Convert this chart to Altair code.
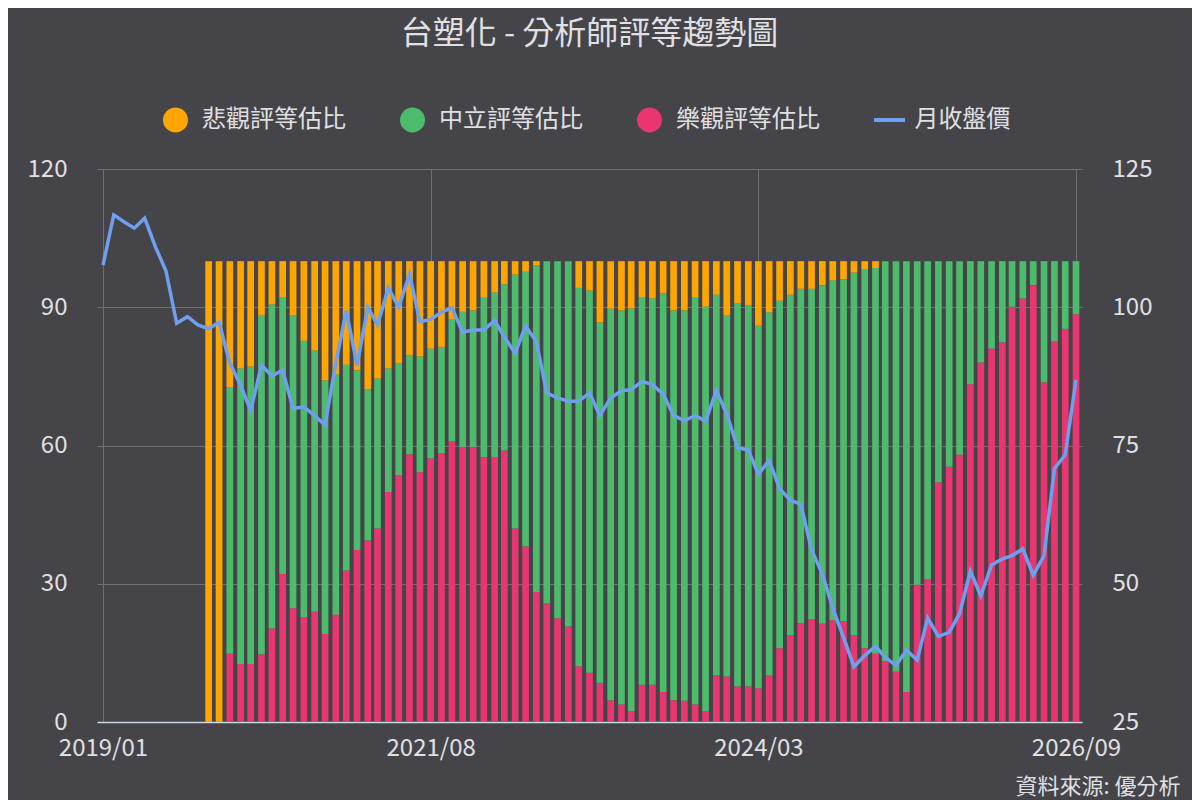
import pandas as pd
import altair as alt

# monthly points, 2019/01 .. 2026/09
months = pd.date_range("2019-01-01", periods=93, freq="MS")

# 月收盤價 (right axis)
price = [
    107.6, 116.7, 115.5, 114.3, 116.1, 110.9, 106.6, 97.1, 98.3, 96.8,
    96.1, 97.3, 89.9, 85.9, 81.3, 89.5, 87.6, 88.6, 81.7, 82.0,
    80.4, 78.7, 89.9, 99.4, 89.5, 100.0, 96.8, 103.5, 100.0, 106.0,
    97.4, 97.8, 99.1, 99.9, 95.5, 95.9, 95.9, 97.6, 94.6, 91.7,
    96.6, 93.8, 84.5, 83.6, 83.0, 83.0, 84.5, 80.4, 83.6, 84.9,
    85.1, 86.6, 86.0, 84.3, 80.4, 79.5, 80.4, 79.4, 84.9, 80.7,
    74.6, 74.2, 69.8, 72.3, 67.2, 65.1, 64.4, 56.1, 51.8, 45.6,
    40.3, 35.0, 37.0, 38.7, 36.7, 35.2, 38.0, 36.2, 43.8, 40.5,
    41.2, 44.6, 52.3, 47.8, 53.4, 54.5, 55.1, 56.3, 51.5, 55.1,
    70.8, 73.3, 86.9,
]

# 樂觀評等估比
bullish = [0] * 12 + [
    14.8, 12.6, 12.6, 14.7, 20.3, 32.1, 24.7, 22.8, 23.9, 19.1,
    23.3, 32.9, 37.3, 39.4, 42.0, 49.9, 53.6, 58.1, 54.2, 57.2,
    58.3, 60.9, 59.7, 59.7, 57.5, 57.5, 58.9, 42.0, 38.1, 28.2,
    25.7, 22.5, 20.7, 12.1, 10.7, 8.5, 4.7, 3.8, 2.4, 8.1,
    8.1, 6.5, 4.7, 4.6, 3.8, 2.4, 10.2, 9.9, 7.7, 7.7,
    7.3, 10.1, 16.0, 18.9, 21.5, 22.3, 21.3, 22.1, 21.9, 18.9,
    16.0, 14.8, 13.2, 10.9, 6.5, 29.8, 31.0, 52.0, 55.4, 58.0,
    73.3, 78.0, 81.0, 82.4, 90.1, 91.9, 94.8, 73.7, 82.6, 85.3,
    88.5,
]

# 中立評等估比
neutral = [0] * 12 + [
    57.9, 64.1, 64.5, 73.5, 70.3, 60.1, 63.5, 59.9, 56.7, 55.0,
    52.2, 44.6, 39.0, 32.8, 32.5, 26.8, 24.2, 21.5, 25.1, 23.8,
    23.1, 26.4, 29.3, 29.6, 34.7, 35.7, 36.1, 55.1, 59.6, 70.9,
    74.3, 77.5, 79.3, 82.1, 82.9, 78.2, 85.0, 85.5, 87.3, 84.1,
    83.8, 86.5, 84.6, 84.7, 88.4, 87.7, 82.5, 78.3, 83.1, 82.8,
    78.7, 78.8, 75.4, 73.8, 72.5, 71.7, 73.5, 73.7, 74.2, 78.6,
    82.3, 83.7, 86.8, 89.1, 93.5, 70.2, 69.0, 48.0, 44.6, 42.0,
    26.7, 22.0, 19.0, 17.6, 9.9, 8.1, 5.2, 26.3, 17.4, 14.7,
    11.5,
]

# 悲觀評等估比
bearish = [0] * 10 + [100, 100] + [
    27.3, 23.3, 22.9, 11.8, 9.4, 7.8, 11.8, 17.3, 19.4, 25.9,
    24.5, 22.5, 23.7, 27.8, 25.5, 23.3, 22.2, 20.4, 20.7, 19.0,
    18.6, 12.7, 11.0, 10.7, 7.8, 6.8, 5.0, 2.9, 2.3, 0.9,
    0, 0, 0, 5.8, 6.4, 13.3, 10.3, 10.7, 10.3, 7.8,
    8.1, 7.0, 10.7, 10.7, 7.8, 9.9, 7.3, 11.8, 9.2, 9.5,
    14.0, 11.1, 8.6, 7.3, 6.0, 6.0, 5.2, 4.2, 3.9, 2.5,
    1.7, 1.5, 0, 0, 0, 0, 0, 0, 0, 0,
    0, 0, 0, 0, 0, 0, 0, 0, 0, 0,
    0,
]

types = ["悲觀評等估比", "中立評等估比", "樂觀評等估比", "月收盤價"]
colors = ["#ffa500", "#4cbb6c", "#ea3670", "#6f9fef"]
tick_dates = ["2019-01-01", "2021-08-01", "2024-03-01", "2026-09-01"]

font = "Noto Sans CJK TC"
text_color = "#e0e0e3"
grid_color = "#707073"

bars_df = pd.DataFrame({
    "month": list(months) * 3,
    "type": [types[2]] * 93 + [types[1]] * 93 + [types[0]] * 93,
    "rank": [0] * 93 + [1] * 93 + [2] * 93,
    "value": bullish + neutral + bearish,
})
line_df = pd.DataFrame({"month": months, "price": price, "type": types[3]})

# one legend: circles for the bars, a short stroke for the price line
is_line = "datum.value === '月收盤價'"
legend = alt.Legend(
    title=None,
    orient="none",
    legendX=66,
    legendY=-68,
    direction="horizontal",
    columns=4,
    padding=0,
    columnPadding=54,
    clipHeight=38,
    labelFont=font,
    labelFontSize=24,
    labelColor=text_color,
    labelLimit=0,
    labelOffset=14,
    symbolOffset=alt.ExprRef(expr=f"({is_line} ? 1.5 : 0)"),
    symbolOpacity=1,
    symbolType=alt.ExprRef(expr=f"({is_line} ? 'stroke' : 'circle')"),
    symbolSize=alt.ExprRef(expr=f"({is_line} ? 1156 : 625)"),
    symbolStrokeWidth=alt.ExprRef(expr=f"({is_line} ? 4 : 0)"),
)
color = alt.Color("type:N", scale=alt.Scale(domain=types, range=colors), legend=legend)

dt = [alt.DateTime(year=int(d[:4]), month=int(d[5:7]), date=1) for d in tick_dates]
x = alt.X(
    "month:T",
    scale=alt.Scale(domain=[dt[0], dt[-1]], padding=6, nice=False),
    axis=alt.Axis(
        values=dt,
        format="%Y/%m",
        grid=True,
        gridColor=grid_color,
        ticks=False,
        domainColor="#ccd6eb",
        domainWidth=1.5,
        labelFont=font,
        labelFontSize=24,
        labelColor=text_color,
        labelPadding=14,
        labelFlush=False,
        labelOverlap=False,
        title="資料來源: 優分析",
        titleX=1083,
        titleY=64,
        titleAlign="right",
        titleBaseline="middle",
        titleFont=font,
        titleFontSize=22,
        titleFontWeight="normal",
        titleColor=text_color,
    ),
)

bars = alt.Chart(bars_df).mark_bar(size=6.7).encode(
    x=x,
    y=alt.Y(
        "value:Q",
        stack="zero",
        scale=alt.Scale(domain=[0, 120], nice=False),
        axis=alt.Axis(
            values=[0, 30, 60, 90, 120],
            grid=True,
            gridColor=grid_color,
            ticks=False,
            domain=False,
            labelPadding=30,
            labelFont=font,
            labelFontSize=24,
            labelColor=text_color,
            title=None,
        ),
    ),
    color=color,
    order=alt.Order("rank:Q"),
)

line = alt.Chart(line_df).mark_line(strokeWidth=3.5).encode(
    x=x,
    y=alt.Y(
        "price:Q",
        scale=alt.Scale(domain=[25, 125], nice=False),
        axis=alt.Axis(
            orient="right",
            values=[25, 50, 75, 100, 125],
            grid=False,
            ticks=False,
            domain=False,
            labelPadding=30,
            labelFont=font,
            labelFontSize=24,
            labelColor=text_color,
            title=None,
        ),
    ),
    color=color,
)

chart = alt.layer(bars, line).resolve_scale(y="independent").properties(
    width=985,
    height=553,
    background="#444449",
    autosize=alt.AutoSizeParams(type="none"),
    padding={"left": 89, "top": 161, "right": 110, "bottom": 80},
    title=alt.TitleParams(
        text="台塑化 - 分析師評等趨勢圖",
        font=font,
        fontSize=32,
        fontWeight="normal",
        color=text_color,
        anchor="middle",
        frame="group",
        baseline="middle",
        offset=35,
    ),
).configure_view(stroke=None)

chart.save("out.html", embed_options={"renderer": "svg", "actions": False})
